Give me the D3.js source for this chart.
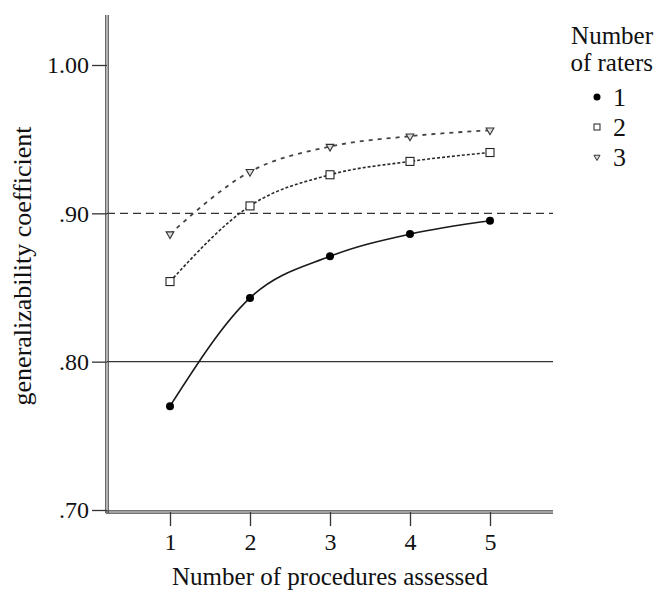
<!DOCTYPE html>
<html>
<head>
<meta charset="utf-8">
<script src="https://cdn.jsdelivr.net/npm/d3@7"></script>
<style>
  body { margin: 0; background: #fff; }
  text { font-family: "Liberation Serif", "DejaVu Serif", serif; fill: #111; }
</style>
</head>
<body>
<div id="chart"></div>
<script>
// data
const procedures = [1, 2, 3, 4, 5];
const raters1 = [0.770, 0.843, 0.871, 0.886, 0.895];
const raters2 = [0.854, 0.905, 0.926, 0.935, 0.941];
const raters3 = [0.886, 0.928, 0.945, 0.952, 0.956];
const yTicks = [0.70, 0.80, 0.90, 1.00];
const yTickLabels = [".70", ".80", ".90", "1.00"];
const legendLabels = ["1", "2", "3"];

const width = 654;
const height = 592;

const svg = d3.select("#chart")
  .append("svg")
  .attr("width", width)
  .attr("height", height);

// scales
const xScale = d3.scaleLinear()
  .domain([0.2125, 5.7875])
  .range([107, 553]);

const yScale = d3.scaleLinear()
  .domain([0.70, 1.00])
  .range([510, 65]);

const axisBottomY = 512;
const axisTopY = 15;

// reference lines at .90 (dashed) and .80 (solid)
svg.append("line")
  .attr("x1", xScale.range()[0]).attr("x2", xScale.range()[1])
  .attr("y1", yScale(0.90)).attr("y2", yScale(0.90))
  .attr("stroke", "#333").attr("stroke-width", 1.2)
  .attr("stroke-dasharray", "8,5");

svg.append("line")
  .attr("x1", xScale.range()[0]).attr("x2", xScale.range()[1])
  .attr("y1", yScale(0.80)).attr("y2", yScale(0.80))
  .attr("stroke", "#333").attr("stroke-width", 1.3);

// y axis (ticks + labels)
const yAxis = svg.append("g")
  .attr("transform", `translate(${xScale.range()[0]},0)`)
  .call(d3.axisLeft(yScale)
    .tickValues(yTicks)
    .tickFormat((d, i) => yTickLabels[i])
    .tickSize(15)
    .tickPadding(3));
yAxis.select(".domain").remove();
yAxis.selectAll("line").attr("stroke", "#333").attr("stroke-width", 1.3);
yAxis.selectAll("text")
  .attr("font-size", "24px")
  .attr("font-family", "Liberation Serif, serif")
  .attr("fill", "#111");

// x axis (ticks + labels)
const xAxis = svg.append("g")
  .attr("transform", `translate(0,${axisBottomY})`)
  .call(d3.axisBottom(xScale)
    .tickValues(procedures)
    .tickFormat(d3.format("d"))
    .tickSize(14)
    .tickPadding(7));
xAxis.select(".domain").remove();
xAxis.selectAll("line").attr("stroke", "#333").attr("stroke-width", 1.3);
xAxis.selectAll("text")
  .attr("font-size", "24px")
  .attr("font-family", "Liberation Serif, serif")
  .attr("fill", "#111");

// double frame lines (left + bottom)
[-1.2, 1.2].forEach(off => {
  svg.append("line")
    .attr("x1", xScale.range()[0] + off).attr("x2", xScale.range()[0] + off)
    .attr("y1", axisTopY).attr("y2", axisBottomY + 1)
    .attr("stroke", "#444").attr("stroke-width", 1.2);
  svg.append("line")
    .attr("x1", xScale.range()[0] - 1.2).attr("x2", xScale.range()[1])
    .attr("y1", axisBottomY + off).attr("y2", axisBottomY + off)
    .attr("stroke", "#444").attr("stroke-width", 1.2);
});

// series lines
const series = [
  {vals: raters1, dash: null, color: "#1a1a1a", width: 1.6},
  {vals: raters2, dash: "3,2", color: "#2a2a2a", width: 1.6},
  {vals: raters3, dash: "4,5", color: "#444", width: 1.8}
];

const line = d3.line()
  .x((d, i) => xScale(procedures[i]))
  .y(d => yScale(d))
  .curve(d3.curveMonotoneX);

series.forEach(s => {
  svg.append("path")
    .datum(s.vals)
    .attr("d", line)
    .attr("fill", "none")
    .attr("stroke", s.color)
    .attr("stroke-width", s.width)
    .attr("stroke-dasharray", s.dash);
});

// markers
const tri = d3.symbol().type(d3.symbolTriangle).size(26);

svg.selectAll(".pt1")
  .data(raters1)
  .enter()
  .append("circle")
    .attr("class", "pt1")
    .attr("cx", (d, i) => xScale(procedures[i]))
    .attr("cy", d => yScale(d))
    .attr("r", 4)
    .attr("fill", "#000");

svg.selectAll(".pt2")
  .data(raters2)
  .enter()
  .append("rect")
    .attr("class", "pt2")
    .attr("x", (d, i) => xScale(procedures[i]) - 4)
    .attr("y", d => yScale(d) - 4)
    .attr("width", 8).attr("height", 8)
    .attr("fill", "#fff")
    .attr("stroke", "#222").attr("stroke-width", 1.1);

svg.selectAll(".pt3")
  .data(raters3)
  .enter()
  .append("path")
    .attr("class", "pt3")
    .attr("d", tri)
    .attr("transform", (d, i) => `translate(${xScale(procedures[i])},${yScale(d)}) rotate(180)`)
    .attr("fill", "#ddd")
    .attr("stroke", "#333").attr("stroke-width", 1.1);

// axis titles
svg.append("text")
  .attr("x", 330).attr("y", 585)
  .attr("text-anchor", "middle")
  .attr("font-size", "25px")
  .text("Number of procedures assessed");

svg.append("text")
  .attr("transform", "translate(31,266) rotate(-90)")
  .attr("text-anchor", "middle")
  .attr("font-size", "26px")
  .text("generalizability coefficient");

// legend
const legend = svg.append("g");
legend.append("text")
  .attr("x", 653).attr("y", 44)
  .attr("text-anchor", "end")
  .attr("font-size", "25px")
  .text("Number");
legend.append("text")
  .attr("x", 653).attr("y", 71)
  .attr("text-anchor", "end")
  .attr("font-size", "25px")
  .text("of raters");

const legY = d3.scalePoint().domain(legendLabels).range([97, 157]);

legendLabels.forEach((lab, i) => {
  const y = legY(lab);
  if (i === 0) {
    legend.append("circle").attr("cx", 597).attr("cy", y).attr("r", 3.5).attr("fill", "#000");
  } else if (i === 1) {
    legend.append("rect").attr("x", 594).attr("y", y - 3).attr("width", 6).attr("height", 6)
      .attr("fill", "#fff").attr("stroke", "#222").attr("stroke-width", 1);
  } else {
    legend.append("path").attr("d", d3.symbol().type(d3.symbolTriangle).size(16))
      .attr("transform", `translate(597,${y}) rotate(180)`)
      .attr("fill", "#ddd").attr("stroke", "#333").attr("stroke-width", 1);
  }
  legend.append("text")
    .attr("x", 613).attr("y", y + 9)
    .attr("font-size", "26px")
    .text(lab);
});
</script>
</body>
</html>
